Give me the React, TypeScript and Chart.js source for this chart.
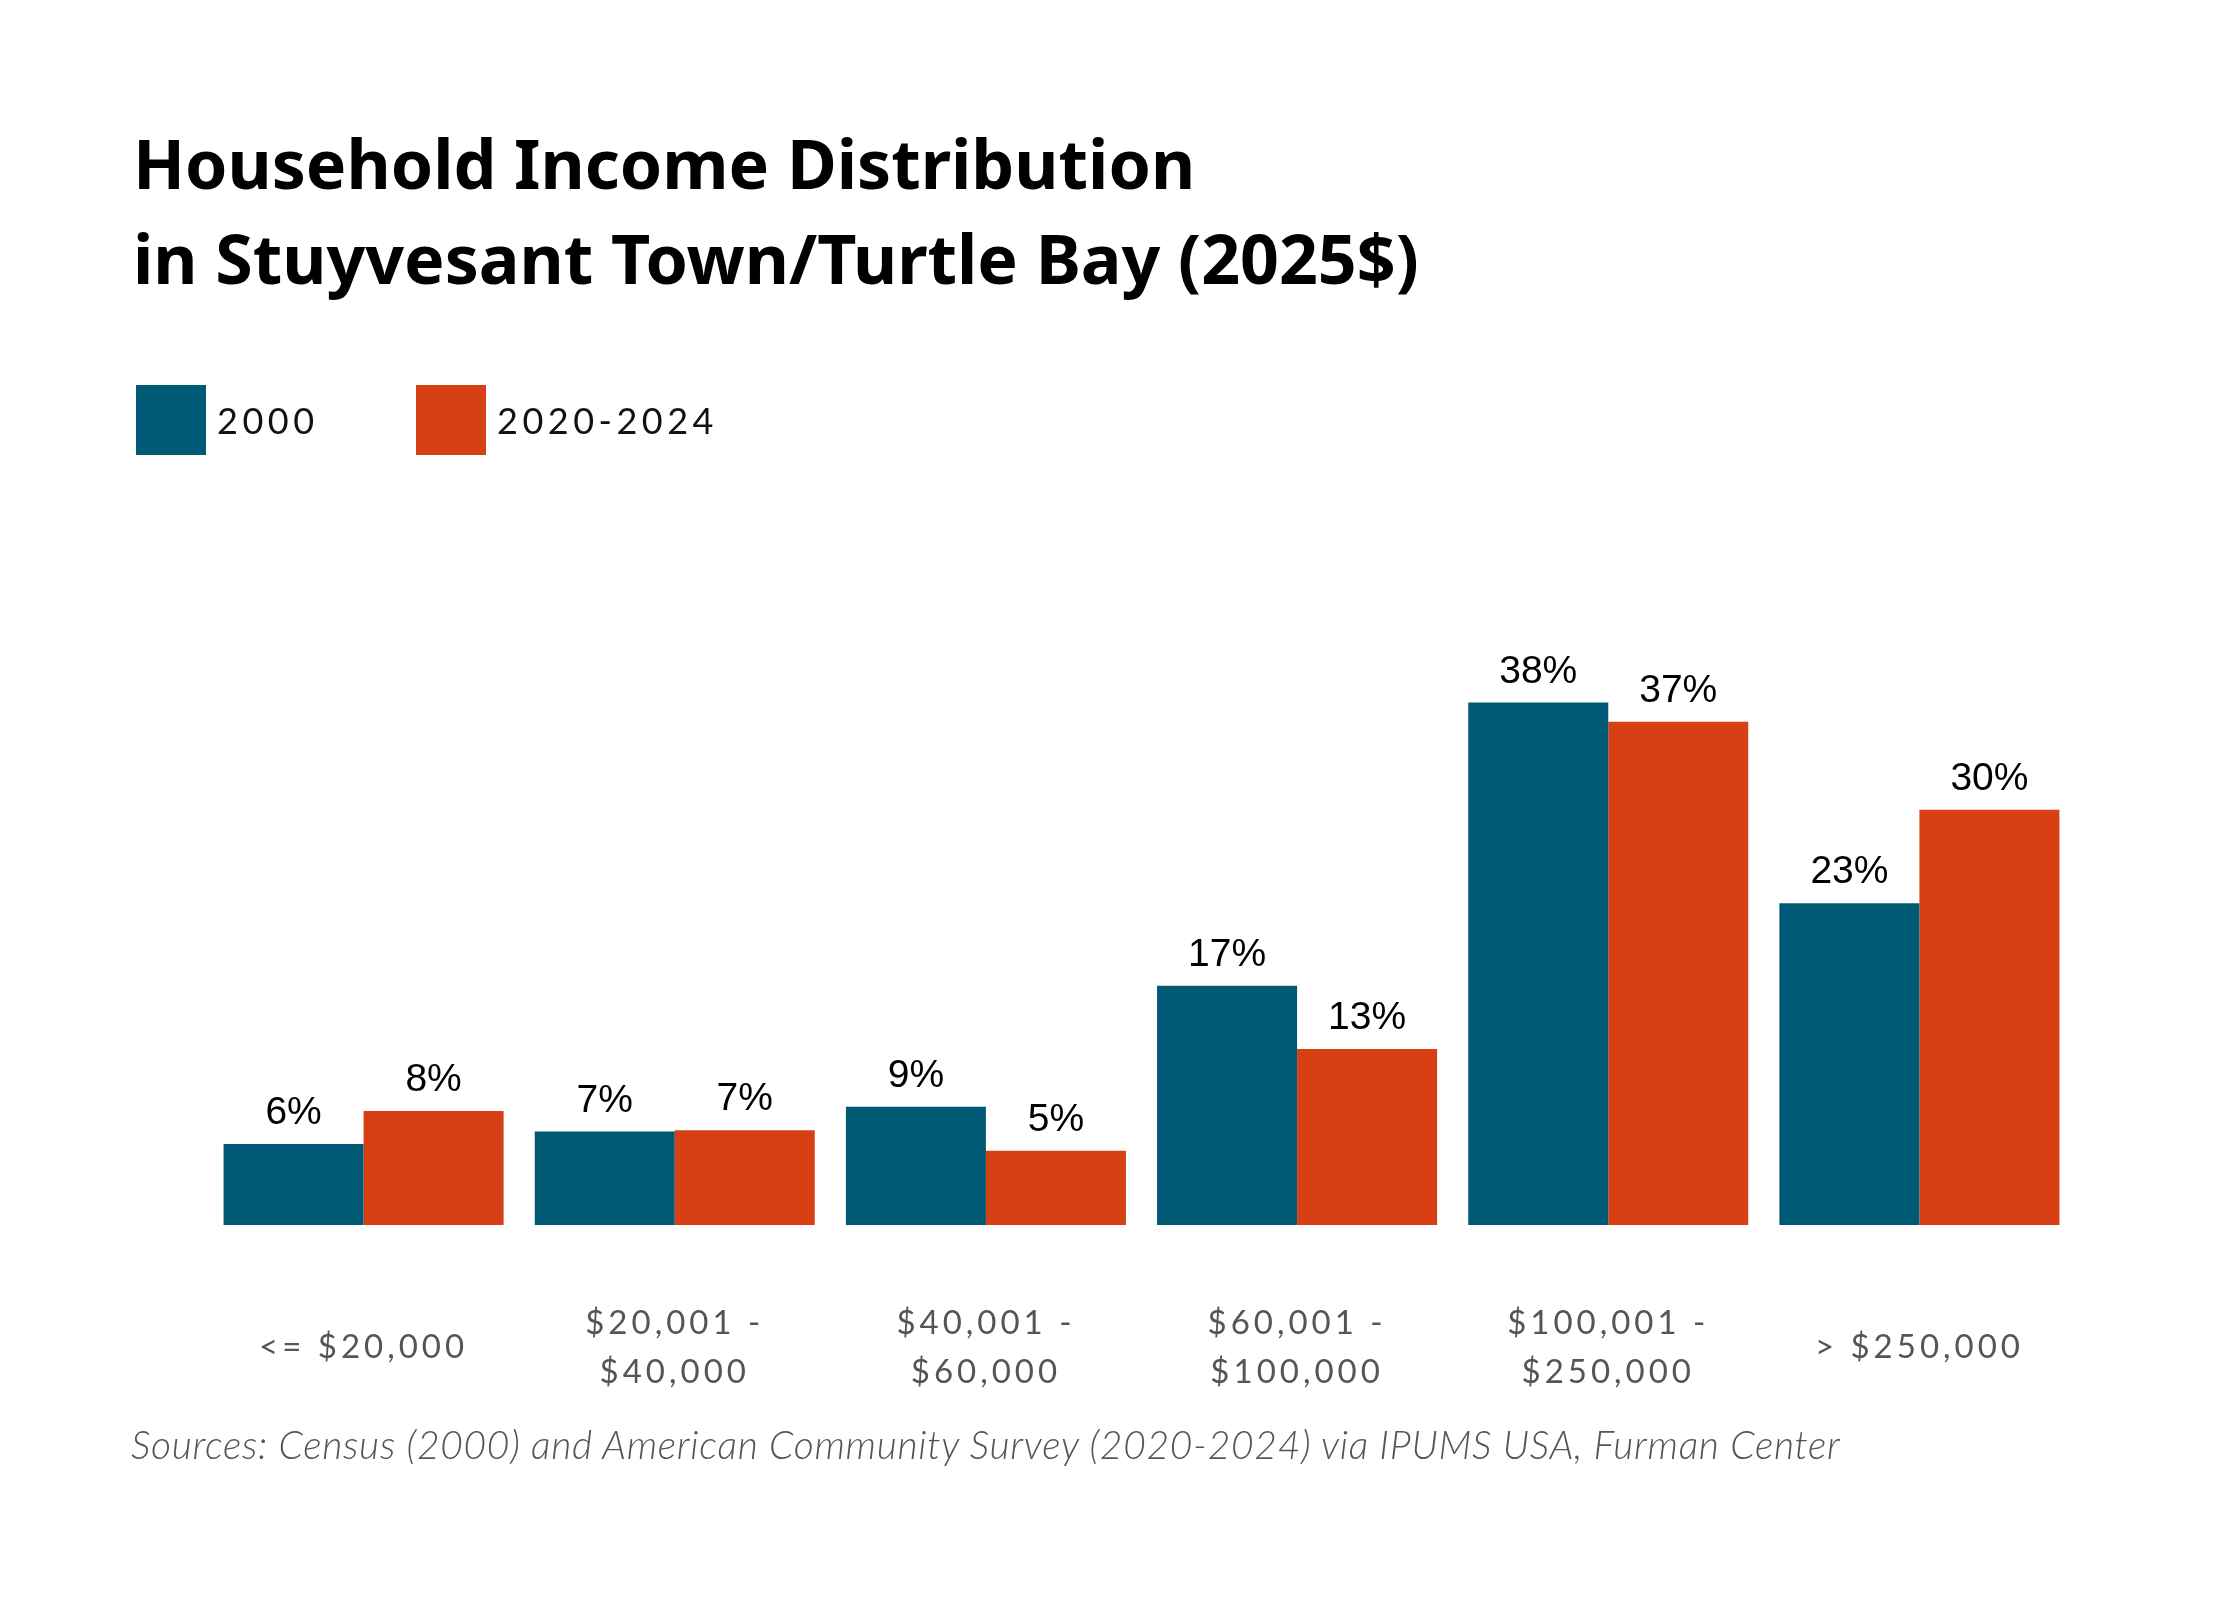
import { useEffect, useRef } from "react";
import { Chart, registerables } from "chart.js";

Chart.register(...registerables);

const categories: (string | string[])[] = [
  "<= $20,000",
  ["$20,001 -", "$40,000"],
  ["$40,001 -", "$60,000"],
  ["$60,001 -", "$100,000"],
  ["$100,001 -", "$250,000"],
  "> $250,000",
];

const seriesNames = ["2000", "2020-2024"];
const seriesColors = ["#005A75", "#D64014"];

const share2000 = [5.9, 6.8, 8.6, 17.4, 38.0, 23.4];
const share2020 = [8.3, 6.9, 5.4, 12.8, 36.6, 30.2];

const titleLines = [
  "Household Income Distribution",
  "in Stuyvesant Town/Turtle Bay (2025$)",
];
const sourceText =
  "Sources: Census (2000) and American Community Survey (2020-2024) via IPUMS USA, Furman Center";

const valueLabels = {
  id: "valueLabels",
  beforeDraw(chart: Chart) {
    (chart.ctx as any).letterSpacing = "4px";
  },
  afterDatasetsDraw(chart: Chart) {
    const ctx = chart.ctx;
    ctx.save();
    (ctx as any).letterSpacing = "0px";
    ctx.font = '39px "Liberation Sans", Arial, sans-serif';
    ctx.fillStyle = "#000";
    ctx.textAlign = "center";
    ctx.textBaseline = "alphabetic";
    chart.data.datasets.forEach((ds, i) => {
      const meta = chart.getDatasetMeta(i);
      meta.data.forEach((bar: any, j) => {
        const v = ds.data[j] as number;
        ctx.fillText(Math.round(v) + "%", bar.x, bar.y - 20);
      });
    });
    ctx.restore();
  },
  afterDraw(chart: Chart) {
    (chart.ctx as any).letterSpacing = "0px";
  },
};

function IncomeChart() {
  const canvasRef = useRef<HTMLCanvasElement | null>(null);

  useEffect(() => {
    if (!canvasRef.current) return;
    const chart = new Chart(canvasRef.current, {
      type: "bar",
      data: {
        labels: categories,
        datasets: [
          { label: seriesNames[0], data: share2000, backgroundColor: seriesColors[0] },
          { label: seriesNames[1], data: share2020, backgroundColor: seriesColors[1] },
        ],
      },
      options: {
        responsive: false,
        animation: false,
        devicePixelRatio: 1,
        layout: { padding: { left: 208, right: 165, top: 675, bottom: 175 } },
        datasets: {
          bar: { categoryPercentage: 0.9, barPercentage: 1.0, borderWidth: 0 },
        },
        plugins: {
          legend: { display: false },
          title: { display: false },
          tooltip: { enabled: false },
        },
        scales: {
          x: {
            grid: { display: false, drawTicks: false },
            border: { display: false },
            afterFit: (scale: any) => {
              scale.height = 200;
            },
            ticks: {
              color: "#555",
              padding: 98,
              crossAlign: "center",
              maxRotation: 0,
              minRotation: 0,
              autoSkip: false,
              font: { family: "Lato", size: 33, lineHeight: 1.5 },
            },
          },
          y: { display: false, min: 0, max: 40 },
        },
      },
      plugins: [valueLabels],
    });
    return () => chart.destroy();
  }, []);

  return (
    <canvas
      ref={canvasRef}
      width={2240}
      height={1600}
      style={{ position: "absolute", left: 0, top: 0, width: 2240, height: 1600 }}
    />
  );
}

export default function App() {
  useEffect(() => {
    document.body.style.margin = "0";
  }, []);

  return (
    <div style={{ position: "relative", width: 2240, height: 1600, background: "#fff", overflow: "hidden" }}>
      <IncomeChart />
      <div
        style={{
          position: "absolute",
          left: 133,
          top: 115,
          fontFamily: '"Noto Sans", sans-serif',
          fontWeight: 700,
          fontSize: 68,
          lineHeight: "95px",
          color: "#000",
          whiteSpace: "nowrap",
        }}
      >
        {titleLines.map((t) => (
          <div key={t}>{t}</div>
        ))}
      </div>
      {seriesNames.map((name, i) => (
        <div key={name} style={{ position: "absolute", left: 136 + i * 280, top: 385 }}>
          <div style={{ position: "absolute", left: 0, top: 0, width: 70, height: 70, background: seriesColors[i] }} />
          <div
            style={{
              position: "absolute",
              left: 81,
              top: 17,
              fontFamily: "Lato, sans-serif",
              fontSize: 36,
              lineHeight: "36px",
              letterSpacing: 4.5,
              color: "#111",
              whiteSpace: "nowrap",
            }}
          >
            {name}
          </div>
        </div>
      ))}
      <div
        style={{
          position: "absolute",
          left: 131,
          top: 1425,
          fontFamily: "Lato, sans-serif",
          fontStyle: "italic",
          fontWeight: 300,
          fontSize: 39,
          lineHeight: "39px",
          letterSpacing: 0.7,
          color: "#555",
          whiteSpace: "nowrap",
        }}
      >
        {sourceText}
      </div>
    </div>
  );
}
